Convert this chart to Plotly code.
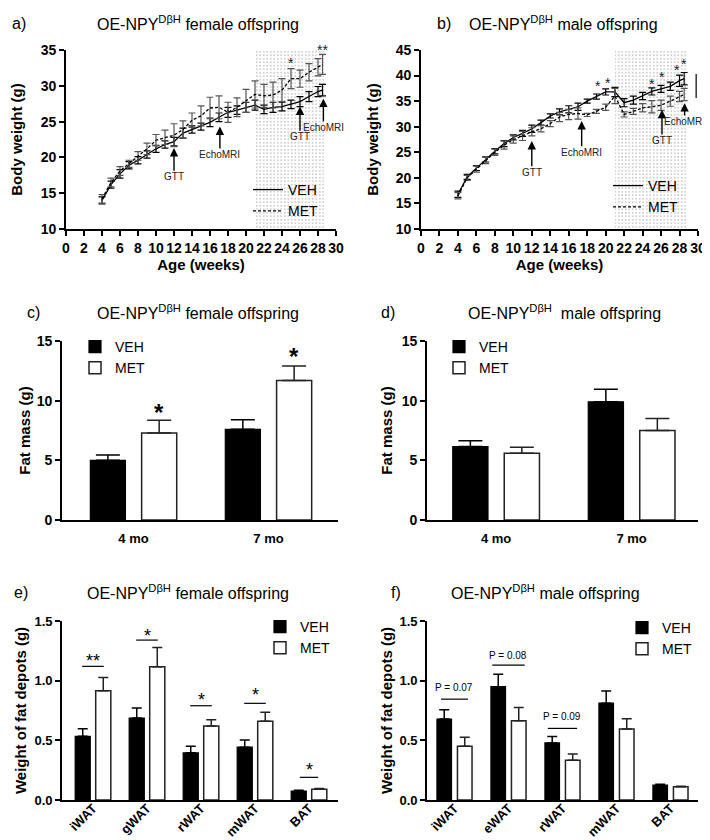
import plotly.graph_objects as go

FONT = "Liberation Sans, Arial, Helvetica, sans-serif"
NARROW = "Liberation Sans Narrow, Arial Narrow, Liberation Sans, Arial, sans-serif"
W, H = 710, 840

# ---------------- Panels a / b : body weight (g) by age (weeks) ----------------
weeks = [4, 5, 6, 7, 8, 9, 10, 11, 12, 13, 14, 15, 16, 17, 18, 19, 20, 21, 22, 23, 24, 25, 26, 27, 28, 28.5]
fem_veh = [14.0, 16.2, 17.7, 18.9, 19.6, 20.4, 21.2, 21.8, 22.2, 23.4, 23.9, 24.3, 24.9, 25.6, 26.3, 26.6,
           27.0, 27.3, 26.7, 27.0, 27.1, 27.4, 27.8, 28.5, 29.2, 29.4]
fem_veh_sem = [0.5, 0.5, 0.6, 0.5, 0.5, 0.5, 0.5, 0.5, 0.6, 0.7, 0.5, 0.5, 0.6, 0.6, 0.7, 0.6,
               0.7, 0.7, 0.6, 0.7, 0.6, 0.6, 0.7, 0.7, 0.7, 0.8]
fem_met = [14.2, 16.5, 18.1, 19.1, 20.2, 21.2, 22.4, 22.8, 23.1, 23.9, 25.2, 25.8, 26.9, 27.0, 26.3, 27.0,
           27.9, 28.8, 28.6, 28.7, 29.4, 31.0, 31.0, 31.9, 32.6, 33.0]
fem_met_sem = [0.6, 0.6, 0.6, 0.5, 0.6, 0.8, 0.8, 1.0, 1.6, 1.2, 1.0, 1.4, 1.5, 1.6, 1.4, 1.3,
               1.6, 1.9, 1.6, 1.8, 1.6, 1.4, 1.2, 1.2, 1.2, 1.4]
male_veh = [16.8, 20.2, 21.9, 23.6, 25.2, 26.7, 27.9, 28.7, 29.6, 30.8, 32.1, 32.9, 33.4, 33.9, 35.0, 35.9,
            36.8, 36.8, 34.7, 35.2, 36.0, 36.9, 37.4, 37.9, 39.0, 39.4]
male_veh_sem = [0.6, 0.5, 0.5, 0.5, 0.5, 0.6, 0.5, 0.6, 0.7, 0.5, 0.4, 0.6, 0.7, 0.7, 0.4, 0.5,
                0.6, 0.9, 0.8, 0.8, 0.7, 0.7, 0.7, 0.8, 1.1, 1.2]
male_met = [16.5, 20.0, 21.7, 23.4, 25.0, 26.4, 27.5, 28.2, 29.0, 29.6, 30.6, 31.9, 32.4, 32.6, 32.3, 33.0,
            33.8, 36.0, 32.4, 33.0, 33.7, 33.9, 34.2, 35.0, 35.9, 36.3]
male_met_sem = [0.6, 0.5, 0.6, 0.6, 0.6, 0.8, 0.7, 0.9, 0.8, 0.6, 0.6, 0.9, 1.0, 1.1, 0.3, 0.4,
                0.6, 1.5, 0.5, 0.6, 0.8, 1.2, 1.0, 1.0, 1.0, 1.2]
treatment_weeks = [21, 28.7]
age_ticks = list(range(0, 31, 2))
fem_range = [10, 35]
male_range = [10, 45]
age_range = [0, 30]

# events: (label, x, arrow tip y, label y)
fem_events = [("GTT", 12, 21.3, 17.3), ("EchoMRI", 17.1, 24.3, 20.4),
              ("GTT", 26, 27.1, 22.9), ("EchoMRI", 28.6, 28.2, 24.2)]
male_events = [("GTT", 12, 27.2, 21.1), ("EchoMRI", 17.4, 31.1, 25.0),
               ("GTT", 26.1, 33.3, 27.3), ("EchoMRI", 28.55, 34.6, 31.0)]
fem_stars = [("*", 25, 33.6), ("**", 28.5, 35.4)]
male_stars = [("*", 19.2, 38.5), ("*", 20.2, 39.1), ("*", 25.0, 39.0), ("*", 26.1, 40.3),
              ("*", 27.7, 41.6), ("*", 28.5, 42.9), ("*", 30.9, 38.3)]
male_bracket = [29.8, 35.6, 40.3]

# ---------------- Panels c / d : fat mass (g) ----------------
fat_groups = ["4 mo", "7 mo"]
fem_fat_veh = [5.0, 7.6]
fem_fat_veh_sem = [0.45, 0.8]
fem_fat_met = [7.3, 11.7]
fem_fat_met_sem = [1.05, 1.2]
male_fat_veh = [6.15, 9.9]
male_fat_veh_sem = [0.5, 1.05]
male_fat_met = [5.6, 7.5]
male_fat_met_sem = [0.5, 1.0]
fem_fat_stars = [("*", 0.19, 9.55), ("*", 1.19, 14.2)]

# ---------------- Panels e / f : fat depots (g) ----------------
fem_depots = ["iWAT", "gWAT", "rWAT", "mWAT", "BAT"]
male_depots = ["iWAT", "eWAT", "rWAT", "mWAT", "BAT"]
fem_dep_veh = [0.534, 0.687, 0.395, 0.443, 0.075]
fem_dep_veh_sem = [0.064, 0.084, 0.055, 0.06, 0.006]
fem_dep_met = [0.916, 1.116, 0.62, 0.66, 0.09]
fem_dep_met_sem = [0.111, 0.161, 0.053, 0.075, 0.006]
male_dep_veh = [0.678, 0.95, 0.478, 0.811, 0.125]
male_dep_veh_sem = [0.078, 0.103, 0.055, 0.103, 0.008]
male_dep_met = [0.45, 0.664, 0.333, 0.594, 0.111]
male_dep_met_sem = [0.075, 0.111, 0.053, 0.086, 0.005]
# (label, group index, line y, half width, text y)
fem_dep_sig = [("**", 0, 1.12, 0.2, 1.205), ("*", 1, 1.34, 0.2, 1.42), ("*", 2, 0.79, 0.2, 0.88),
               ("*", 3, 0.81, 0.2, 0.92), ("*", 4, 0.19, 0.17, 0.29)]
male_dep_sig = [("P = 0.07", 0, 0.845, 0.25, 0.945), ("P = 0.08", 1, 1.13, 0.3, 1.21),
                ("P = 0.09", 2, 0.60, 0.27, 0.70)]

OFF = 0.19


def px(x):
    return x / W


def py(y):
    return 1 - y / H


def to_paper(v, rng, dom):
    return dom[0] + (v - rng[0]) / (rng[1] - rng[0]) * (dom[1] - dom[0])


xa = [px(58), px(328)]
xb = [px(413), px(690)]
xc = [px(54), px(330)]
xd = [px(419), px(690)]
ya = [py(221), py(42)]
yc = [py(512), py(333)]
ye = [py(792), py(613)]

fig = go.Figure()
annotations = []
shapes = []

# ---- line panels
for ax_id, veh, vs, met, ms, leg, yr_ in [("", fem_veh, fem_veh_sem, fem_met, fem_met_sem, "legend", fem_range),
                                          ("2", male_veh, male_veh_sem, male_met, male_met_sem, "legend2", male_range)]:
    t0, t1 = treatment_weeks
    fig.add_trace(go.Scatter(x=[t0, t1, t1, t0, t0], y=[yr_[0], yr_[0], yr_[1], yr_[1], yr_[0]], mode="lines",
                             fill="toself", line=dict(width=0), fillcolor="rgba(0,0,0,0)",
                             fillpattern=dict(shape=".", fgcolor="#8c8c8c", bgcolor="white", size=3.5, solidity=0.22),
                             hoverinfo="skip", showlegend=False, xaxis="x" + ax_id, yaxis="y" + ax_id))
    fig.add_trace(go.Scatter(x=weeks, y=veh, mode="lines", name="VEH", legend=leg,
                             line=dict(color="black", width=1.3),
                             error_y=dict(type="data", array=vs, color="black", thickness=1.2, width=3.5),
                             xaxis="x" + ax_id, yaxis="y" + ax_id))
    fig.add_trace(go.Scatter(x=weeks, y=met, mode="lines", name="MET", legend=leg,
                             line=dict(color="black", width=1.3, dash="3px,2px"),
                             error_y=dict(type="data", array=ms, color="#555", thickness=1.2, width=3.5),
                             xaxis="x" + ax_id, yaxis="y" + ax_id))

for ax_id, events, stars, yr_, xdom in [("", fem_events, fem_stars, fem_range, xa),
                                        ("2", male_events, male_stars, male_range, xb)]:
    xr, yr = "x" + ax_id, "y" + ax_id
    for lab, x, tip, ly in events:
        annotations.append(dict(x=x, y=tip, ax=x, ay=ly, xref=xr, yref=yr, axref=xr, ayref=yr,
                                text=lab, showarrow=True, arrowhead=2, arrowsize=1.2, arrowwidth=1.4,
                                arrowcolor="black", borderpad=0,
                                font=dict(family=NARROW, size=10, color="#222")))
    for lab, x, y in stars:
        # paper-referenced so that marks just outside the axis range stay visible
        annotations.append(dict(x=to_paper(x, age_range, xdom), y=to_paper(y, yr_, ya),
                                xref="paper", yref="paper", text=lab, showarrow=False, yshift=-3,
                                xanchor="center", yanchor="middle", borderpad=0,
                                font=dict(family=FONT, size=14, color="#222")))

bx, by0, by1 = male_bracket
shapes.append(dict(type="line", xref="x2", yref="y2", x0=bx, x1=bx, y0=by0, y1=by1,
                   line=dict(color="black", width=1.2)))


# ---- bar panels
def add_bars(ax_id, n, veh, vs, met, ms, leg, bw, cap):
    idx = list(range(n))
    fig.add_trace(go.Bar(x=[i - OFF for i in idx], y=veh, width=bw, name="VEH", legend=leg,
                         marker=dict(color="black", line=dict(color="black", width=1.2)),
                         error_y=dict(type="data", array=vs, arrayminus=[0] * n, symmetric=False,
                                      color="black", thickness=1.5, width=cap),
                         xaxis="x" + ax_id, yaxis="y" + ax_id))
    fig.add_trace(go.Bar(x=[i + OFF for i in idx], y=met, width=bw, name="MET", legend=leg,
                         marker=dict(color="white", line=dict(color="#222", width=1.5)),
                         error_y=dict(type="data", array=ms, arrayminus=[0] * n, symmetric=False,
                                      color="#222", thickness=1.5, width=cap),
                         xaxis="x" + ax_id, yaxis="y" + ax_id))


add_bars("3", 2, fem_fat_veh, fem_fat_veh_sem, fem_fat_met, fem_fat_met_sem, "legend3", 0.26, 12)
add_bars("4", 2, male_fat_veh, male_fat_veh_sem, male_fat_met, male_fat_met_sem, "legend4", 0.26, 12)
add_bars("5", 5, fem_dep_veh, fem_dep_veh_sem, fem_dep_met, fem_dep_met_sem, "legend5", 0.28, 5)
add_bars("6", 5, male_dep_veh, male_dep_veh_sem, male_dep_met, male_dep_met_sem, "legend6", 0.27, 5)

for lab, x, y in fem_fat_stars:
    annotations.append(dict(x=x, y=y, xref="x3", yref="y3", text=lab, showarrow=False, yshift=-6,
                            font=dict(family=FONT, size=24, color="black", weight="bold")))

for ax_id, sig, size in [("5", fem_dep_sig, 18), ("6", male_dep_sig, 10)]:
    for lab, i, ly, hw, ty in sig:
        shapes.append(dict(type="line", xref="x" + ax_id, yref="y" + ax_id, x0=i - hw, x1=i + hw,
                           y0=ly, y1=ly, line=dict(color="black", width=1.2)))
        annotations.append(dict(x=i, y=ty, xref="x" + ax_id, yref="y" + ax_id, text=lab, showarrow=False,
                                yshift=-5 if size > 12 else 0,
                                font=dict(family=FONT, size=size, color="black")))

# ---- titles and panel labels
title_f = "OE-NPY<sup>DβH</sup> female offspring"
title_m = "OE-NPY<sup>DβH</sup> male offspring"
title_m2 = "OE-NPY<sup>DβH</sup>  male offspring"
for txt, cx, cy in [(title_f, 190, 15), (title_m, 555, 15), (title_f, 190, 304),
                    (title_m2, 556, 304), (title_f, 180, 584), (title_m, 537, 584)]:
    annotations.append(dict(x=px(cx), y=py(cy), xref="paper", yref="paper", text=txt, showarrow=False,
                            xanchor="center", yanchor="middle", font=dict(family=FONT, size=16, color="black")))
for txt, lx, cy in [("a)", 2, 15), ("b)", 427, 15), ("c)", 17, 304), ("d)", 371, 304), ("e)", 4, 584), ("f)", 381, 584)]:
    annotations.append(dict(x=px(lx), y=py(cy), xref="paper", yref="paper", text=txt, showarrow=False,
                            xanchor="left", yanchor="middle", font=dict(family=FONT, size=16, color="black")))


def axis(domain, anchor, fsize=14, **kw):
    d = dict(domain=domain, anchor=anchor, showline=True, linecolor="black", linewidth=1.6,
             ticks="outside", ticklen=5, tickwidth=1.5, tickcolor="black", showgrid=False, zeroline=False,
             tickfont=dict(family=FONT, size=fsize, color="black", weight="bold"), automargin=False,
             fixedrange=True)
    d.update(kw)
    return d


def atitle(text, standoff):
    return dict(text=text, standoff=standoff, font=dict(family=FONT, size=15, color="black", weight="bold"))


legend_base = dict(xanchor="left", yanchor="top", bgcolor="rgba(0,0,0,0)", borderwidth=0,
                   font=dict(family=FONT, size=14, color="black"), tracegroupgap=0)


def leg(x, y):
    d = dict(legend_base)
    d.update(x=px(x), y=py(y))
    return d


fig.update_layout(
    width=W, height=H, margin=dict(l=0, r=0, t=0, b=0),
    paper_bgcolor="white", plot_bgcolor="white", hovermode=False, barmode="overlay",
    font=dict(family=FONT, color="black"),
    xaxis=axis(xa, "y", range=age_range, tickvals=age_ticks, title=atitle("Age (weeks)", 5)),
    yaxis=axis(ya, "x", range=fem_range, dtick=5, title=atitle("Body weight (g)", 18)),
    xaxis2=axis(xb, "y2", range=age_range, tickvals=age_ticks, title=atitle("Age (weeks)", 5)),
    yaxis2=axis(ya, "x2", range=male_range, dtick=5, title=atitle("Body weight (g)", 14)),
    xaxis3=axis(xc, "y3", 13, range=[-0.53, 1.515], tickvals=[0, 1], ticktext=fat_groups, ticks="",
                ticklabelstandoff=6),
    yaxis3=axis(yc, "x3", range=[0, 15], dtick=5, title=atitle("Fat mass (g)", 3)),
    xaxis4=axis(xd, "y4", 13, range=[-0.51, 1.49], tickvals=[0, 1], ticktext=fat_groups, ticks="",
                ticklabelstandoff=6),
    yaxis4=axis(yc, "x4", range=[0, 15], dtick=5, title=atitle("Fat mass (g)", 6)),
    xaxis5=axis(xc, "y5", 13, range=[-0.574, 4.537], tickvals=list(range(5)), ticktext=fem_depots, ticks="",
                tickangle=-45, ticklabelstandoff=-6),
    yaxis5=axis(ye, "x5", 13, range=[0, 1.5], dtick=0.5, tickformat=".1f",
                title=atitle("Weight of fat depots (g)", 4)),
    xaxis6=axis(xd, "y6", 13, range=[-0.509, 4.51], tickvals=list(range(5)), ticktext=male_depots, ticks="",
                tickangle=-45, ticklabelstandoff=-6),
    yaxis6=axis(ye, "x6", 13, range=[0, 1.5], dtick=0.5, tickformat=".1f",
                title=atitle("Weight of fat depots (g)", 3)),
    legend=leg(240, 166), legend2=leg(600, 162), legend3=leg(67, 323), legend4=leg(431, 323),
    legend5=leg(252, 603), legend6=leg(614, 604),
    annotations=annotations, shapes=shapes,
)

fig.write_html("out.html")
